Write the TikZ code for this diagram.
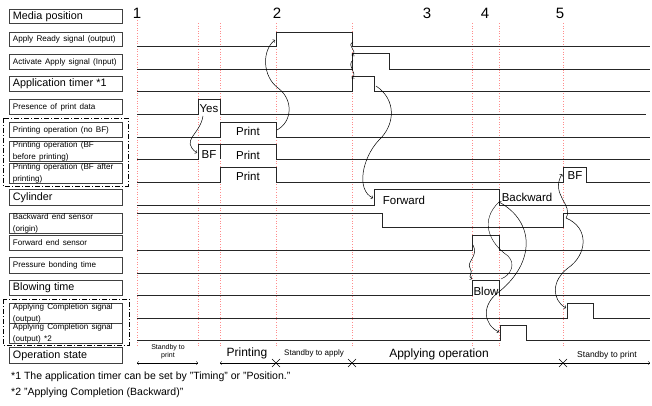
\documentclass[tikz,border=0pt]{standalone}
\usepackage{fontspec}
\setmainfont{Liberation Sans}
\usetikzlibrary{arrows}
\tikzstyle{lbox}=[draw=black!75, line width=0.9pt, anchor=north west, minimum width=113pt, text width=106pt, inner xsep=3.5pt, inner ysep=0pt, align=left]
\tikzstyle{wave}=[draw=black!85, line width=0.8pt]
\tikzstyle{guide}=[draw=red!45, dotted, line width=0.6pt]
\tikzstyle{cause}=[->, >=to, line width=0.5pt]
\tikzstyle{group}=[dash pattern=on 5pt off 2pt on 1pt off 2pt, line width=0.8pt]
\tikzstyle{sigtxt}=[inner sep=0pt, font=\fontsize{11.5}{12}\selectfont]
\tikzstyle{num}=[inner sep=0pt, font=\fontsize{15}{16}\selectfont]
\newcommand{\lsm}{\fontsize{8.1}{9.3}\selectfont}
\newcommand{\lbg}{\fontsize{10.8}{12}\selectfont}
\newcommand{\lbl}{\node[lbox]}

\begin{document}
\begin{tikzpicture}[x=1pt, y=-1pt]
\useasboundingbox (0,0) rectangle (652,406);
\lbl (media) [minimum height=14pt] at (9,9) {\lbg Media position};
\lbl (ardy) [minimum height=14pt] at (9,32) {\lsm Apply Ready signal (output)};
\lbl (act) [minimum height=15pt] at (9,54) {\lsm Activate Apply signal (Input)};
\lbl (tmr) [minimum height=15pt] at (9,76) {\lbg Application timer *1};
\lbl (pdat) [minimum height=15pt] at (9,99) {\lsm Presence of print data};
\lbl (pnobf) [minimum height=15pt] at (9,122) {\lsm Printing operation (no BF)};
\lbl (pbfb) [minimum height=18pt] at (9,141) {\lsm Printing operation (BF\\before printing)};
\lbl (pbfa) [minimum height=19pt] at (9,163) {\lsm Printing operation (BF after\\printing)};
\lbl (cyl) [minimum height=16pt] at (9,189) {\lbg Cylinder};
\lbl (bks) [minimum height=19pt] at (9,213) {\lsm Backward end sensor\\(origin)};
\lbl (fws) [minimum height=15pt] at (9,235) {\lsm Forward end sensor};
\lbl (prs) [minimum height=16pt] at (9,257) {\lsm Pressure bonding time};
\lbl (blw) [minimum height=15pt] at (9,280) {\lbg Blowing time};
\lbl (aco) [minimum height=19pt] at (9,303) {\lsm Applying Completion signal\\(output)};
\lbl (act2) [minimum height=20pt] at (9,323) {\lsm Applying Completion signal\\(output) *2};
\lbl (ops) [minimum height=16pt] at (9,347) {\lbg Operation state};
\draw[group] (3,118) rectangle (128,186);
\draw[group] (3,299) rectangle (129,345);

\draw[guide] (137,20) -- (137,347);
\draw[guide] (198,23) -- (198,347);
\draw[guide] (220,23) -- (220,347);
\draw[guide] (276,23) -- (276,347);
\draw[guide] (352,23) -- (352,347);
\draw[guide] (472,23) -- (472,347);
\draw[guide] (499,23) -- (499,347);
\draw[guide] (563,23) -- (563,347);

\node[num] (n1) at (137,13) {1};
\node[num] (n2) at (277,13) {2};
\node[num] (n3) at (427,13) {3};
\node[num] (n4) at (485,13) {4};
\node[num] (n5) at (560,13) {5};

\draw[wave] (137,46) -- (276,46) -- (276,32) -- (352,32) -- (352,46) -- (650,46);
\draw[wave] (137,69) -- (352,69) -- (352,53) -- (389,53) -- (389,69) -- (650,69);
\draw[wave] (137,91) -- (352,91) -- (352,76) -- (374,76) -- (374,91) -- (650,91);
\draw[wave] (137,114) -- (198,114) -- (198,99) -- (220,99) -- (220,114) -- (646,114);
\draw[wave] (137,137) -- (220,137) -- (220,122) -- (276,122) -- (276,137) -- (650,137);
\draw[wave] (137,159) -- (198,159) -- (198,144) -- (276,144) -- (276,159) -- (650,159);
\draw[wave] (220,144) -- (220,159);
\draw[wave] (137,182) -- (220,182) -- (220,167) -- (276,167) -- (276,182) -- (563,182) -- (563,167) -- (586,167) -- (586,182) -- (650,182);
\draw[wave] (137,205) -- (374,205) -- (374,189) -- (499,189) -- (499,205) -- (650,205);
\draw[wave] (137,213) -- (382,213) -- (382,227) -- (563,227) -- (563,213) -- (650,213);
\draw[wave] (137,250) -- (472,250) -- (472,235) -- (499,235) -- (499,250) -- (650,250);
\draw[wave] (137,273) -- (650,273);
\draw[wave] (137,295) -- (472,295) -- (472,280) -- (499,280) -- (499,295) -- (650,295);
\draw[wave] (137,318) -- (567,318) -- (567,303) -- (593,303) -- (593,318) -- (650,318);
\draw[wave] (137,340) -- (500,340) -- (500,325) -- (526,325) -- (526,340) -- (650,340);

\node[sigtxt] (yes) at (209,109) {Yes};
\node[sigtxt] (print1) at (248,131) {Print};
\node[sigtxt] (bf1) at (209,155) {BF};
\node[sigtxt] (print2) at (248,155) {Print};
\node[sigtxt] (print3) at (248,176) {Print};
\node[sigtxt] (bf2) at (575,176) {BF};
\node[sigtxt] (fwd) at (404,200) {Forward};
\node[sigtxt] (bwd) at (527,197) {Backward};
\node[sigtxt] (blow) at (486,291) {Blow};

\coordinate (yesup) at (203,116);
\coordinate (bfup) at (197,153);
\coordinate (prend) at (277,130);
\coordinate (rdyup) at (275,40);
\coordinate (rdydn) at (353,42);
\coordinate (actup) at (352,56);
\coordinate (actdn) at (353,60);
\coordinate (tmrup) at (352,79);
\coordinate (tmrdn) at (376,86);
\coordinate (cylup) at (373,198);
\coordinate (fwdon) at (473,245);
\coordinate (blwup) at (472,279);
\coordinate (blwdn) at (500,291);
\coordinate (cyldn) at (499,202);
\coordinate (blwtop) at (501,279);
\coordinate (ac2up) at (499,332);
\coordinate (bkon) at (566,218);
\coordinate (bfaft) at (562,174);
\coordinate (acup) at (566,308);

\draw[cause] (yesup) .. controls (200,135) and (180,140) .. (bfup);
\draw[cause] (prend) .. controls (292,122) and (294,100) .. (278,88) .. controls (262,76) and (262,50) .. (rdyup);
\draw[cause] (rdydn) .. controls (346,46) and (358,50) .. (actup);
\draw[cause] (actdn) .. controls (346,66) and (358,72) .. (tmrup);
\draw[cause] (tmrdn) .. controls (397,100) and (395,125) .. (379,140) .. controls (362,158) and (356,190) .. (cylup);
\draw[cause] (fwdon) .. controls (479,256) and (466,262) .. (470,268) .. controls (474,273) and (467,276) .. (blwup);
\draw[cause] (blwdn) .. controls (535,262) and (535,222) .. (cyldn);
\draw (cyldn) .. controls (480,220) and (488,242) .. (508,256) .. controls (516,264) and (511,275) .. (blwtop);
\draw[cause] (blwdn) .. controls (480,305) and (484,325) .. (ac2up);
\draw[cause] (bkon) .. controls (574,205) and (550,195) .. (bfaft);
\draw[cause] (bkon) .. controls (590,228) and (587,255) .. (568,268) .. controls (551,281) and (552,300) .. (acup);

\draw[<->, >=to] (137,363) -- (198,363);
\draw[<->, >=to] (220,363) -- (650,363);
\draw (272,359) -- (280,367) (272,367) -- (280,359);
\draw (348,359) -- (356,367) (348,367) -- (356,359);
\draw (559,359) -- (567,367) (559,367) -- (567,359);
\node[align=center, inner sep=0pt, font=\fontsize{7}{8}\selectfont] (st1) at (168,352) {Standby to\\print};
\node[inner sep=0pt, font=\fontsize{12}{13}\selectfont] (st2) at (247,353) {Printing};
\node[inner sep=0pt, font=\fontsize{8}{9}\selectfont] (st3) at (314,353) {Standby to apply};
\node[inner sep=0pt, font=\fontsize{12}{13}\selectfont] (st4) at (439,354) {Applying operation};
\node[inner sep=0pt, font=\fontsize{8.5}{9}\selectfont] (st5) at (607,355) {Standby to print};

\node[anchor=west, inner sep=0pt, font=\fontsize{10.5}{12}\selectfont] (fn1) at (11,377) {*1 The application timer can be set by "Timing" or "Position."};
\node[anchor=west, inner sep=0pt, font=\fontsize{10.5}{12}\selectfont] (fn2) at (11,393) {*2 "Applying Completion (Backward)"};
\end{tikzpicture}
\end{document}
